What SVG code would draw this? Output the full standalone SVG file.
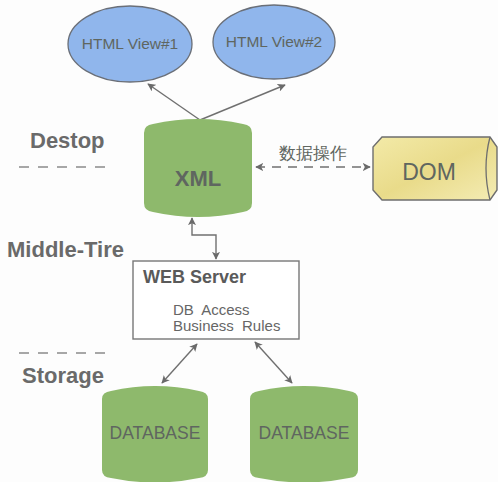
<svg xmlns="http://www.w3.org/2000/svg" width="498" height="482" viewBox="0 0 498 482">
<defs>
<style>
.lbl{font-family:"Liberation Sans",Arial,sans-serif;font-weight:bold;font-size:22px;fill:#6a6a6a}
.ell{fill:#90b6ec;stroke:#6a6f78;stroke-width:1.3}
.t{font-family:"Liberation Sans",Arial,sans-serif;fill:#5f6660;text-anchor:middle}
.cyl{fill:#8eb96c}
.con{fill:none;stroke:#707070;stroke-width:1.4}
.sep{stroke:#8a8a8a;stroke-width:1.5;stroke-dasharray:10 9}
</style>
<marker id="ah" viewBox="0 0 10 10" refX="9" refY="5" markerWidth="8" markerHeight="8" orient="auto-start-reverse" markerUnits="userSpaceOnUse">
<path d="M0,0 L10,5 L0,10 L2.5,5 Z" fill="#6a6a6a"/>
</marker>
<linearGradient id="domg" x1="0" y1="0" x2="1" y2="1">
<stop offset="0" stop-color="#f3eaa8"/>
<stop offset="0.5" stop-color="#e9db8a"/>
<stop offset="1" stop-color="#f4ecb4"/>
</linearGradient>
</defs>
<rect width="498" height="482" fill="#fdfdfd"/>
<g id="layers">
<text class="lbl" x="30" y="148">Destop</text>
<line class="sep" x1="19" y1="167" x2="112" y2="167"/>
<text class="lbl" x="7" y="257">Middle-Tire</text>
<line class="sep" x1="19" y1="353" x2="112" y2="353"/>
<text class="lbl" x="22" y="383">Storage</text>
</g>
<g id="connectors">
<line class="con" x1="200" y1="120" x2="148" y2="84" marker-end="url(#ah)"/>
<line class="con" x1="200" y1="120" x2="285" y2="85" marker-end="url(#ah)"/>
<polyline class="con" points="192,218 192,235 216,235 216,259" marker-start="url(#ah)" marker-end="url(#ah)"/>
<line class="con" x1="256" y1="167" x2="370" y2="167" stroke-dasharray="9 7" marker-start="url(#ah)" marker-end="url(#ah)"/>
<line class="con" x1="162" y1="383" x2="197" y2="344" marker-start="url(#ah)" marker-end="url(#ah)"/>
<line class="con" x1="292" y1="383" x2="255" y2="342" marker-start="url(#ah)" marker-end="url(#ah)"/>
<text class="t" x="313" y="159" font-size="17" font-family="'Noto Sans CJK SC',sans-serif" fill="#666">数据操作</text>
</g>
<g id="html1">
<ellipse class="ell" cx="130" cy="44" rx="62" ry="38"/>
<text class="t" x="130" y="49" font-size="15.5" fill="#5a6270">HTML View#1</text>
</g>
<g id="html2">
<ellipse class="ell" cx="274" cy="42" rx="61" ry="37"/>
<text class="t" x="274" y="47" font-size="15.5" fill="#5a6270">HTML View#2</text>
</g>
<g id="xml">
<path class="cyl" d="M144,133 Q144,125 153,124 Q198,114 243,124 Q252,125 252,133 L252,203 Q252,211 243,212 Q198,222 153,212 Q144,211 144,203 Z"/>
<text class="t" x="198" y="186" font-size="22" font-weight="bold" fill="#56605a">XML</text>
</g>
<g id="dom">
<path d="M382,137 L490,137 L497,147 L497,190 L490,200 L382,200 L373,190 L373,147 Z" fill="url(#domg)" stroke="#6e6e6e" stroke-width="1.4"/>
<path d="M490,137 Q482,168 490,200" fill="none" stroke="#6e6e6e" stroke-width="1.3"/>
<text class="t" x="429" y="180" font-size="23" fill="#5a5a5a">DOM</text>
</g>
<g id="webserver">
<rect x="133" y="261" width="166" height="78" fill="#fff" stroke="#777" stroke-width="1.4"/>
<text x="143" y="283" font-family="'Liberation Sans',Arial,sans-serif" font-size="18" font-weight="bold" fill="#5a5a5a">WEB Server</text>
<text x="173" y="315" font-family="'Liberation Sans',Arial,sans-serif" font-size="15" fill="#666" word-spacing="4">DB Access</text>
<text x="173" y="331" font-family="'Liberation Sans',Arial,sans-serif" font-size="15" fill="#666" word-spacing="4">Business Rules</text>
</g>
<g id="db1">
<path class="cyl" d="M102,399 Q102,392 111,391 Q155,381 199,391 Q208,392 208,399 L208,470 Q208,477 199,478 Q155,487 111,478 Q102,477 102,470 Z"/>
<text class="t" x="155" y="439" font-size="17.5">DATABASE</text>
</g>
<g id="db2">
<path class="cyl" d="M250,399 Q250,392 259,391 Q304,381 349,391 Q358,392 358,399 L358,470 Q358,477 349,478 Q304,487 259,478 Q250,477 250,470 Z"/>
<text class="t" x="304" y="439" font-size="17.5">DATABASE</text>
</g>
</svg>
